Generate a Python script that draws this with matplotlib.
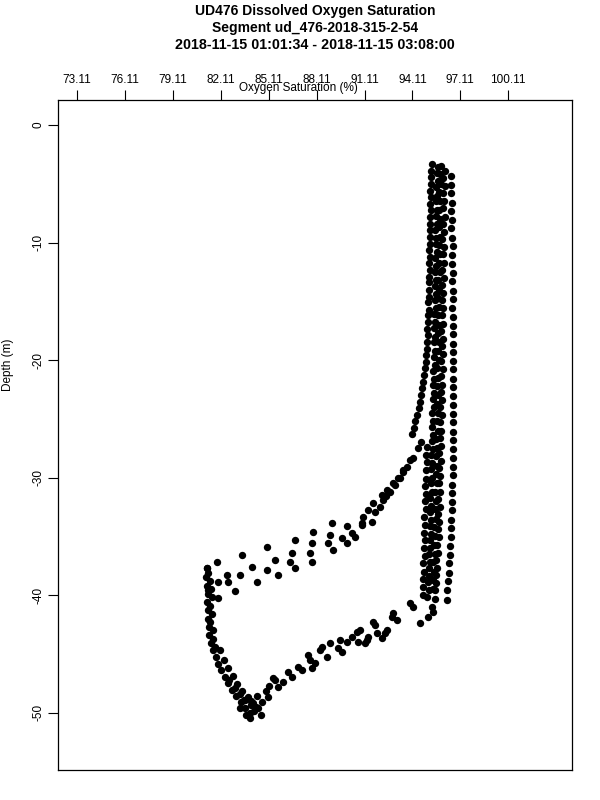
import matplotlib
matplotlib.use("Agg")
import matplotlib.pyplot as plt

plt.rcParams['font.family'] = ['Liberation Sans', 'DejaVu Sans']

# верхня колонка (щільна смуга), ліва частина
col_a_o2 = [95.32, 95.28, 95.25, 95.30, 95.22, 95.27, 95.20, 95.25, 95.21, 95.18,
            95.24, 95.19, 95.22, 95.16, 95.20, 95.15, 95.18, 95.13, 95.17, 95.12,
            95.15, 95.10, 95.13, 95.07, 95.10, 95.04, 95.06, 95.00, 95.02, 94.96,
            94.95, 94.90, 94.86, 94.80, 94.74, 94.66, 94.58, 94.50, 94.40, 94.30,
            94.20, 94.08]
col_a_depth = [-3.3, -3.9, -4.4, -5.0, -5.6, -6.1, -6.7, -7.2, -7.8, -8.4,
               -8.9, -9.5, -10.1, -10.6, -11.2, -11.7, -12.3, -12.9, -13.4, -14.0,
               -14.6, -15.1, -15.7, -16.2, -16.8, -17.4, -17.9, -18.5, -19.1, -19.6,
               -20.2, -20.7, -21.3, -21.9, -22.4, -23.0, -23.6, -24.1, -24.7, -25.2,
               -25.8, -26.3]

# середина смуги
col_b_o2 = [95.70, 95.62, 95.68, 95.60, 95.66, 95.58, 95.64, 95.57, 95.63, 95.55,
            95.61, 95.56, 95.62, 95.54, 95.60, 95.52, 95.58, 95.53, 95.59, 95.50,
            95.56, 95.48, 95.55, 95.47, 95.53, 95.46, 95.52, 95.44, 95.50, 95.42,
            95.48, 95.40, 95.46, 95.38, 95.44, 95.36, 95.42, 95.34, 95.40, 95.32,
            95.38, 95.30, 95.36, 95.28, 95.34, 95.26, 95.32, 95.24, 95.30, 95.22,
            95.28, 95.20, 95.26, 95.18, 95.24, 95.16, 95.20, 95.12, 95.16, 95.08,
            95.12, 95.05]
col_b_depth = [-3.6, -4.1, -4.8, -5.3, -6.0, -6.5, -7.2, -7.7, -8.4, -8.9,
               -9.6, -10.1, -10.8, -11.3, -12.0, -12.5, -13.2, -13.7, -14.4, -14.9,
               -15.6, -16.1, -16.8, -17.3, -18.0, -18.5, -19.2, -19.7, -20.4, -20.9,
               -21.6, -22.1, -22.8, -23.3, -24.0, -24.5, -25.2, -25.7, -26.4, -26.9,
               -27.6, -28.1, -28.8, -29.3, -30.0, -30.5, -31.2, -31.7, -32.4, -32.9,
               -33.6, -34.1, -34.8, -35.3, -36.0, -36.5, -37.2, -37.7, -38.4, -38.9,
               -39.6, -40.2]

# між серединою і правим краєм
col_f_o2 = [95.88, 95.82, 95.90, 95.80, 95.86, 95.78, 95.85, 95.79, 95.84, 95.76,
            95.83, 95.77, 95.82, 95.74, 95.80, 95.73, 95.79, 95.72, 95.78, 95.70,
            95.76, 95.69, 95.75, 95.67, 95.73, 95.66, 95.71, 95.64, 95.70, 95.62,
            95.68, 95.60, 95.66, 95.58, 95.64, 95.56, 95.62, 95.54, 95.60, 95.52,
            95.57, 95.49, 95.54, 95.46, 95.50, 95.42, 95.46, 95.38, 95.42]
col_f_depth = [-3.5, -4.2, -5.0, -5.7, -6.5, -7.2, -8.0, -8.7, -9.5, -10.2,
               -11.0, -11.7, -12.5, -13.2, -14.0, -14.7, -15.5, -16.2, -17.0, -17.7,
               -18.5, -19.2, -20.0, -20.7, -21.5, -22.2, -23.0, -23.7, -24.5, -25.2,
               -26.0, -26.7, -27.5, -28.2, -29.0, -29.7, -30.5, -31.2, -32.0, -32.7,
               -33.5, -34.2, -35.0, -35.7, -36.5, -37.2, -38.0, -38.7, -39.5]

# права частина смуги
col_c_o2 = [96.12, 96.05, 96.15, 96.02, 96.10, 96.00, 96.12, 96.03, 96.08, 95.98,
            96.10, 96.00, 96.06, 95.96, 96.08, 95.98, 96.04, 95.94, 96.05, 95.95,
            96.02, 95.92, 96.03, 95.93, 96.00, 95.90, 96.00, 95.90, 95.97, 95.87,
            95.96, 95.86, 95.93, 95.84, 95.92, 95.82, 95.90, 95.80, 95.88, 95.78,
            95.86, 95.76, 95.84, 95.74, 95.82, 95.72, 95.78, 95.68, 95.75, 95.65,
            95.70, 95.60, 95.66, 95.56, 95.60, 95.50, 95.54]
col_c_depth = [-3.9, -4.5, -5.2, -5.8, -6.5, -7.1, -7.8, -8.4, -9.1, -9.7,
               -10.4, -11.0, -11.7, -12.3, -13.0, -13.6, -14.3, -14.9, -15.6, -16.2,
               -16.9, -17.5, -18.2, -18.8, -19.5, -20.1, -20.8, -21.4, -22.1, -22.7,
               -23.4, -24.0, -24.7, -25.3, -26.0, -26.6, -27.3, -27.9, -28.6, -29.2,
               -29.9, -30.5, -31.2, -31.8, -32.5, -33.1, -33.8, -34.4, -35.1, -35.7,
               -36.4, -37.0, -37.7, -38.3, -39.0, -39.6, -40.3]

# крайня права колонка точок
col_d_o2 = [96.50, 96.55, 96.52, 96.58, 96.54, 96.60, 96.55, 96.58, 96.62, 96.56,
            96.60, 96.63, 96.58, 96.62, 96.65, 96.60, 96.64, 96.62, 96.66, 96.63,
            96.65, 96.67, 96.64, 96.66, 96.68, 96.65, 96.67, 96.66, 96.64, 96.66,
            96.65, 96.63, 96.64, 96.62, 96.63, 96.60, 96.61, 96.58, 96.58, 96.55,
            96.54, 96.50, 96.48, 96.45, 96.42, 96.38, 96.35, 96.30, 96.25]
col_d_depth = [-4.3, -5.1, -5.8, -6.6, -7.3, -8.1, -8.8, -9.6, -10.3, -11.1,
               -11.8, -12.6, -13.3, -14.1, -14.8, -15.6, -16.3, -17.1, -17.8, -18.6,
               -19.3, -20.1, -20.8, -21.6, -22.3, -23.1, -23.8, -24.6, -25.3, -26.1,
               -26.8, -27.6, -28.3, -29.1, -29.8, -30.6, -31.3, -32.1, -32.8, -33.6,
               -34.3, -35.1, -35.8, -36.6, -37.3, -38.1, -38.8, -39.6, -40.4]

# нижня ліва частина смуги
col_e_o2 = [95.00, 94.95, 95.02, 94.93, 94.98, 94.90, 94.96, 94.88, 94.95, 94.86,
            94.92, 94.85, 94.90, 94.82, 94.88, 94.80, 94.85, 94.78, 94.80, 94.75]
col_e_depth = [-27.4, -28.1, -28.7, -29.4, -30.1, -30.7, -31.4, -32.0, -32.7, -33.4,
               -34.0, -34.7, -35.3, -36.0, -36.7, -37.3, -38.0, -38.6, -39.3, -40.0]

# вигин вліво (дві лінії)
bend_o2 = [94.67, 94.45, 94.13, 93.76, 93.55, 93.32, 93.00, 92.70, 92.48, 92.26, 92.07, 91.76,
           93.95, 93.51, 93.20, 92.89, 92.51, 92.20, 91.63, 91.32, 91.00, 90.94]
bend_depth = [-26.95, -27.5, -28.3, -29.1, -29.5, -30.0, -30.6, -31.2, -31.55, -31.9, -32.5, -32.9,
              -28.5, -29.4, -30.0, -30.5, -31.1, -31.5, -32.2, -32.8, -33.4, -33.9]

# розсіяні точки
scatter_o2 = [89.07, 90.00, 90.94, 91.57, 87.88, 88.94, 89.69, 90.32, 90.50, 86.75,
              87.82, 88.82, 90.00, 85.00, 86.56, 87.69, 89.13, 83.44, 85.50, 86.44,
              87.82, 81.87, 84.06, 85.00, 86.75, 81.25, 82.50, 83.31, 85.69, 81.93,
              82.56, 84.37, 81.31, 83.00, 81.93]
scatter_depth = [-33.87, -34.13, -34.04, -33.79, -34.64, -34.89, -35.15, -34.72, -35.06, -35.32,
                 -35.57, -35.57, -35.57, -35.91, -36.43, -36.43, -36.17, -36.60, -37.02, -37.19,
                 -37.19, -37.19, -37.62, -37.87, -37.70, -37.70, -38.30, -38.30, -38.30, -38.89,
                 -38.89, -38.89, -39.57, -39.66, -40.26]

# ліва стінка
wall_o2 = [81.25, 81.30, 81.20, 81.45, 81.25, 81.50, 81.30, 81.55, 81.25, 81.45,
           81.30, 81.55, 81.30, 81.45, 81.35, 81.60, 81.40, 81.65, 81.50, 81.75]
wall_depth = [-37.7, -38.1, -38.5, -38.8, -39.2, -39.5, -39.9, -40.2, -40.6, -40.9,
              -41.3, -41.6, -42.0, -42.3, -42.7, -43.0, -43.4, -43.7, -44.1, -44.4]

# дно
bottom_o2 = [81.62, 81.80, 81.95, 82.15, 82.35, 82.55, 82.80, 83.05, 83.35, 83.65,
             83.95, 83.94, 82.06, 82.30, 82.55, 82.85, 83.15, 83.45, 83.80, 84.15,
             84.45, 84.70, 85.05, 84.40, 83.30, 83.70, 84.20, 84.60, 83.55, 84.00,
             82.65, 83.00, 83.30, 83.60, 84.00, 84.30]
bottom_depth = [-44.7, -45.3, -45.9, -46.4, -47.0, -47.5, -48.1, -48.6, -49.1, -49.6,
                -50.0, -50.5, -44.7, -45.5, -46.2, -46.9, -47.6, -48.2, -48.7, -49.2,
                -49.6, -49.1, -48.7, -48.6, -49.6, -50.2, -49.9, -50.2, -48.9, -49.4,
                -47.2, -47.9, -48.4, -48.9, -49.0, -49.5]

# підйом
rise_o2 = [85.50, 86.00, 86.56, 86.94, 87.69, 87.82, 88.44, 88.75, 89.57, 89.69,
           90.63, 90.69, 91.26, 91.76, 91.88, 92.38, 92.82, 85.37, 85.69, 86.31,
           87.19, 87.56, 88.00, 88.32, 88.94, 89.44, 90.00, 90.32, 91.13, 91.32,
           92.19, 92.51, 92.89, 93.14, 91.63, 90.82, 93.95, 94.13, 95.33, 95.39,
           95.07, 94.57, 84.95, 85.15]
rise_depth = [-47.23, -47.40, -46.98, -46.13, -45.53, -46.21, -44.43, -45.28, -43.83, -44.85,
              -43.15, -44.00, -43.83, -42.55, -43.23, -43.23, -41.87, -47.06, -47.83, -46.55,
              -46.38, -45.11, -45.79, -44.68, -44.09, -44.51, -44.00, -43.57, -44.09, -43.57,
              -43.66, -42.98, -41.53, -42.13, -42.30, -42.98, -40.68, -41.02, -41.02, -41.45,
              -41.87, -42.38, -48.2, -47.7]

x_ticks = [73.11, 76.11, 79.11, 82.11, 85.11, 88.11, 91.11, 94.11, 97.11, 100.11]
y_ticks = [0, -10, -20, -30, -40, -50]

groups = [(col_a_o2, col_a_depth), (col_b_o2, col_b_depth), (col_f_o2, col_f_depth),
          (col_c_o2, col_c_depth), (col_d_o2, col_d_depth), (col_e_o2, col_e_depth),
          (bend_o2, bend_depth), (scatter_o2, scatter_depth), (wall_o2, wall_depth),
          (bottom_o2, bottom_depth), (rise_o2, rise_depth)]

fig = plt.figure(figsize=(6, 8), dpi=100)
ax = fig.add_axes([58 / 600, 30 / 800, 514 / 600, 670 / 800])

for xs, ys in groups:
    ax.plot(xs, ys, 'o', color='black', ms=5.3, mew=0)

ax.set_xlim(71.92, 104.1)
ax.set_ylim(-54.89, 2.13)

ax.xaxis.tick_top()
ax.set_xticks(x_ticks)
ax.set_xticklabels([f"{v:.2f}" for v in x_ticks])
ax.set_yticks(y_ticks)
ax.set_yticklabels([str(v) for v in y_ticks], rotation=90, va='center')
ax.tick_params(direction='out', length=7, width=0.8, labelsize=8.5, pad=3, colors='black')
for s in ax.spines.values():
    s.set_linewidth(0.9)

fig.text(298 / 600, 1 - 88 / 800, "Oxygen Saturation (%)", ha='center', va='center', fontsize=8.5)
fig.text(8 / 600, 435 / 800, "Depth (m)", rotation=90, ha='center', va='center', fontsize=8.5)

fig.text(315 / 600, 1 - 11 / 800, "UD476 Dissolved Oxygen Saturation", ha='center', va='center',
         fontsize=10, fontweight='bold')
fig.text(315 / 600, 1 - 28 / 800, "Segment ud_476-2018-315-2-54", ha='center', va='center',
         fontsize=10, fontweight='bold')
fig.text(315 / 600, 1 - 45 / 800, "2018-11-15 01:01:34 - 2018-11-15 03:08:00", ha='center', va='center',
         fontsize=10.3, fontweight='bold')

fig.savefig("out.png", dpi=100)
